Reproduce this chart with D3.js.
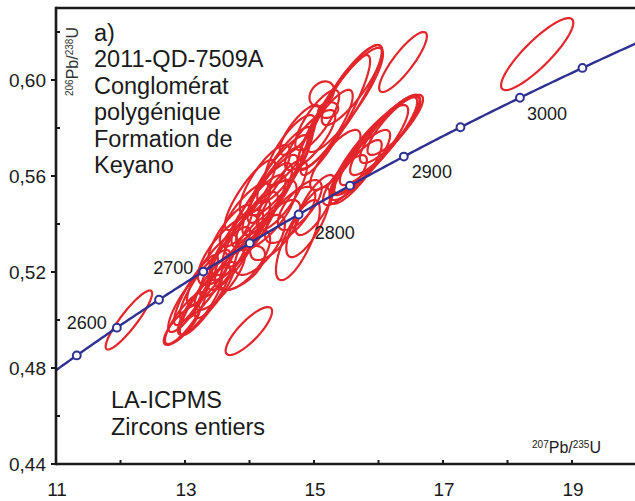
<!DOCTYPE html>
<html>
<head>
<meta charset="utf-8">
<script src="https://cdn.jsdelivr.net/npm/d3@7"></script>
<style>
  html, body { margin: 0; padding: 0; background: #fff; }
  svg { display: block; font-family: "Liberation Sans", Arial, Helvetica, sans-serif; }
</style>
</head>
<body>
<svg id="chart" width="635" height="501"></svg>
<script>
// Axis ticks
const xTicks = [11, 12, 13, 14, 15, 16, 17, 18, 19];
const xTickLabels = ["11", "", "13", "", "15", "", "17", "", "19"];
const yTicks = [0.44, 0.46, 0.48, 0.50, 0.52, 0.54, 0.56, 0.58, 0.60, 0.62];
const yTickLabels = ["0,44", "", "0,48", "", "0,52", "", "0,56", "", "0,60", ""];

// Concordia age markers (Ma) and labelled ages
const markerAges = [2550, 2600, 2650, 2700, 2750, 2800, 2850, 2900, 2950, 3000, 3050];
const labelledAges = [2600, 2700, 2800, 2900, 3000];

// Zircon analyses: ratio, 2-sigma uncertainty, error correlation
const pb207u235 = [13.00, 13.08, 13.17, 12.95, 13.31, 13.42, 13.23, 13.62, 13.78, 13.85,
                   14.01, 14.09, 14.19, 14.32, 14.40, 14.47, 14.55, 13.93, 14.16, 14.40,
                   14.63, 14.78, 13.70, 13.93, 14.24, 14.63, 14.75, 14.91, 13.54, 13.85,
                   15.40, 15.33, 15.48, 15.12, 15.22, 14.94, 14.78, 15.17, 15.59, 15.95,
                   16.02, 16.10, 15.87, 15.71, 15.65, 16.18, 15.48, 16.26, 15.33, 16.38,
                   18.46, 12.13, 13.99, 13.67, 14.26, 14.50, 13.46, 15.05, 15.02, 14.01,
                   13.31];
const pb206u238 = [0.5008, 0.5083, 0.5125, 0.4979, 0.5146, 0.5208, 0.5063, 0.5242, 0.5292, 0.5333,
                   0.5375, 0.5438, 0.5479, 0.5521, 0.5563, 0.5604, 0.5646, 0.5250, 0.5313, 0.5375,
                   0.5438, 0.5479, 0.5354, 0.5438, 0.5583, 0.5708, 0.5333, 0.5408, 0.5167, 0.5217,
                   0.5888, 0.5854, 0.5917, 0.5942, 0.5875, 0.5750, 0.5792, 0.5792, 0.5979, 0.5729,
                   0.5750, 0.5771, 0.5708, 0.5646, 0.5617, 0.5792, 0.5583, 0.5813, 0.5667, 0.6075,
                   0.6108, 0.5000, 0.4954, 0.5292, 0.5438, 0.5521, 0.5125, 0.5833, 0.5479, 0.5521,
                   0.5083];
const err207 = [0.31, 0.34, 0.34, 0.28, 0.39, 0.39, 0.34, 0.39, 0.43, 0.47,
                0.43, 0.47, 0.47, 0.43, 0.43, 0.47, 0.43, 0.39, 0.39, 0.39,
                0.39, 0.34, 0.34, 0.39, 0.39, 0.39, 0.34, 0.34, 0.39, 0.39,
                0.65, 0.54, 0.59, 0.19, 0.155, 0.39, 0.31, 0.43, 0.47, 0.65,
                0.62, 0.54, 0.59, 0.47, 0.40, 0.47, 0.34, 0.43, 0.39, 0.37,
                0.56, 0.36, 0.36, 0.47, 0.47, 0.39, 0.31, 0.34, 0.31, 0.39,
                0.39];
const err206 = [0.0108, 0.0133, 0.0146, 0.0083, 0.0146, 0.0146, 0.0125, 0.0146, 0.0167, 0.0167,
                0.0158, 0.0167, 0.0175, 0.0167, 0.0158, 0.0167, 0.0158, 0.0125, 0.0125, 0.0125,
                0.0117, 0.0104, 0.0125, 0.0133, 0.0146, 0.0146, 0.0167, 0.0146, 0.0125, 0.0092,
                0.0258, 0.0250, 0.0217, 0.0052, 0.0033, 0.0125, 0.0104, 0.0167, 0.0167, 0.0200,
                0.0188, 0.0167, 0.0188, 0.0146, 0.0133, 0.0138, 0.0104, 0.0125, 0.0125, 0.0125,
                0.0150, 0.0123, 0.0100, 0.0146, 0.0146, 0.0146, 0.0117, 0.0125, 0.0125, 0.0146,
                0.0146];
const rho = [0.85, 0.85, 0.88, 0.80, 0.85, 0.85, 0.85, 0.85, 0.85, 0.85,
             0.85, 0.85, 0.85, 0.85, 0.85, 0.85, 0.85, 0.70, 0.70, 0.70,
             0.70, 0.70, 0.80, 0.80, 0.80, 0.80, 0.75, 0.75, 0.80, 0.60,
             0.90, 0.90, 0.88, 0.30, 0.20, 0.80, 0.80, 0.85, 0.85, 0.90,
             0.90, 0.88, 0.88, 0.85, 0.85, 0.85, 0.80, 0.85, 0.80, 0.86,
             0.87, 0.90, 0.82, 0.75, 0.75, 0.80, 0.85, 0.80, 0.75, 0.85,
             0.88];

// Decay constants (per year)
const L238 = 1.55125e-10, L235 = 9.8485e-10;
const ratio206 = t => Math.exp(L238 * t * 1e6) - 1;
const ratio207 = t => Math.exp(L235 * t * 1e6) - 1;

const svg = d3.select("#chart");
const x = d3.scaleLinear().domain([11, 20]).range([56, 636.5]);
const y = d3.scaleLinear().domain([0.44, 0.63]).range([464, 8]);

const INK = "#1a1a1a", RED = "#e2262b", NAVY = "#2e3192";

// Error ellipses
const N = 90;
const ellipses = pb207u235.map((cx, i) => ({
  cx, cy: pb206u238[i], sx: err207[i], sy: err206[i], r: rho[i]
}));
const ellLine = d3.line().curve(d3.curveLinearClosed);
svg.append("g").selectAll("path").data(ellipses).join("path")
  .attr("d", e => {
    const k = Math.sqrt(1 - e.r * e.r);
    return ellLine(d3.range(N).map(j => {
      const a = (j / N) * 2 * Math.PI;
      return [x(e.cx + e.sx * Math.cos(a)),
              y(e.cy + e.sy * (e.r * Math.cos(a) + k * Math.sin(a)))];
    }));
  })
  .attr("fill", "none").attr("stroke", RED).attr("stroke-width", 2.2);

// Concordia curve, across the full 207Pb/235U range
const tStart = Math.log(1 + 11) / L235 / 1e6;
const tEnd = Math.log(1 + 20) / L235 / 1e6;
const curvePts = d3.range(0, 201).map(i => {
  const t = tStart + (tEnd - tStart) * i / 200;
  return [x(ratio207(t)), y(ratio206(t))];
});
svg.append("path").attr("d", d3.line()(curvePts))
  .attr("fill", "none").attr("stroke", NAVY).attr("stroke-width", 2.4);

svg.append("g").selectAll("circle").data(markerAges).join("circle")
  .attr("cx", t => x(ratio207(t))).attr("cy", t => y(ratio206(t)))
  .attr("r", 3.9).attr("fill", "#fff").attr("stroke", NAVY).attr("stroke-width", 2);

const labelOffset = {2600: [-10, 1, "end"], 2700: [-10, 2, "end"], 2800: [16, 25, "start"],
                     2900: [8, 21, "start"], 3000: [7, 22, "start"]};
svg.append("g").selectAll("text").data(labelledAges).join("text")
  .attr("x", t => x(ratio207(t)) + labelOffset[t][0])
  .attr("y", t => y(ratio206(t)) + labelOffset[t][1])
  .attr("text-anchor", t => labelOffset[t][2])
  .attr("font-size", 18).attr("fill", INK)
  .text(t => t);

// Frame: left axis, bottom axis, top border
const frame = svg.append("g").attr("stroke", INK).attr("stroke-width", 2.6).attr("fill", "none");
frame.append("line").attr("x1", x(11)).attr("x2", x(11)).attr("y1", y(0.63) - 1.3).attr("y2", y(0.44) + 1.3);
frame.append("line").attr("x1", x(11)).attr("x2", 635).attr("y1", y(0.44)).attr("y2", y(0.44));
frame.append("line").attr("x1", x(11)).attr("x2", 635).attr("y1", y(0.63)).attr("y2", y(0.63));

// Y ticks: labelled ticks outside, minor ticks inside
const yAxis = svg.append("g");
yAxis.selectAll("line").data(yTicks).join("line")
  .attr("x1", (d, i) => yTickLabels[i] ? x(11) - 5 : x(11))
  .attr("x2", (d, i) => yTickLabels[i] ? x(11) : x(11) + 4)
  .attr("y1", d => y(d)).attr("y2", d => y(d))
  .attr("stroke", INK).attr("stroke-width", 2);
yAxis.selectAll("text").data(yTicks).join("text")
  .attr("x", 46).attr("y", d => y(d) + 6.5)
  .attr("text-anchor", "end").attr("font-size", 19).attr("fill", INK)
  .text((d, i) => yTickLabels[i]);

// X ticks
const xAxis = svg.append("g");
xAxis.selectAll("line").data(xTicks).join("line")
  .attr("x1", d => x(d)).attr("x2", d => x(d))
  .attr("y1", y(0.44)).attr("y2", y(0.44) - 4)
  .attr("stroke", INK).attr("stroke-width", 2);
xAxis.selectAll("text").data(xTicks).join("text")
  .attr("x", d => x(d) + 1).attr("y", 496)
  .attr("text-anchor", "middle").attr("font-size", 19).attr("fill", INK)
  .text((d, i) => xTickLabels[i]);

// Axis titles with isotope superscripts
const yTitle = svg.append("text")
  .attr("transform", "translate(78,96) rotate(-90)")
  .attr("fill", "#333").attr("font-size", 16);
yTitle.append("tspan").attr("font-size", 10).attr("dy", -5).text("206");
yTitle.append("tspan").attr("dy", 5).text("Pb/");
yTitle.append("tspan").attr("font-size", 10).attr("dy", -5).text("238");
yTitle.append("tspan").attr("dy", 5).text("U");

const xTitle = svg.append("text")
  .attr("x", 601).attr("y", 453).attr("text-anchor", "end")
  .attr("fill", INK).attr("font-size", 16);
xTitle.append("tspan").attr("font-size", 10).attr("dy", -5).text("207");
xTitle.append("tspan").attr("dy", 5).text("Pb/");
xTitle.append("tspan").attr("font-size", 10).attr("dy", -5).text("235");
xTitle.append("tspan").attr("dy", 5).text("U");

// Sample annotation
const titleLines = ["a)", "2011-QD-7509A", "Conglomérat", "polygénique", "Formation de", "Keyano"];
svg.append("g").selectAll("text").data(titleLines).join("text")
  .attr("x", 94).attr("y", (d, i) => 41 + i * 26.4)
  .attr("font-size", 23.5).attr("fill", INK).text(d => d);

const methodLines = ["LA-ICPMS", "Zircons entiers"];
svg.append("g").selectAll("text").data(methodLines).join("text")
  .attr("x", 111).attr("y", (d, i) => 408 + i * 27)
  .attr("font-size", 23.5).attr("fill", INK).text(d => d);
</script>
</body>
</html>
